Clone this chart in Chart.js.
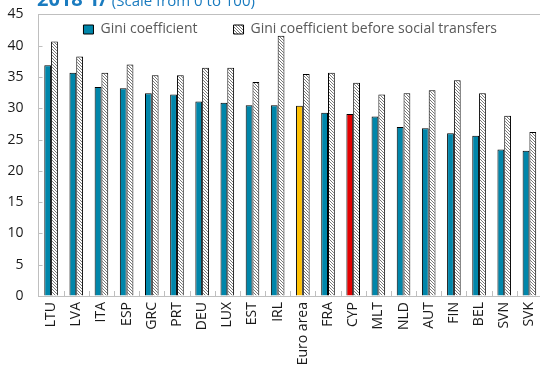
<!DOCTYPE html>
<html>
<head>
<meta charset="utf-8">
<script src="https://cdn.jsdelivr.net/npm/chart.js@4/dist/chart.umd.min.js"></script>
<style>
  html, body { margin: 0; padding: 0; background: #fff; overflow: hidden; width: 540px; height: 372px; }
  #wrap { position: absolute; left: 0; top: 0; width: 542px; height: 372px; }
  #title { position: absolute; left: 37px; top: -11px; line-height: 20px; white-space: nowrap;
           font-family: "Open Sans", sans-serif; color: #1a7bbf; z-index: 2; }
  #title b { font-size: 20px; font-weight: 700; }
  #title span { font-size: 15px; }
</style>
</head>
<body>
<div id="title"><b>2018 1/</b> <span>(Scale from 0 to 100)</span></div>
<div id="wrap"><canvas id="c" width="542" height="372"></canvas></div>
<script>
// ---- data ----
const categories = ['LTU','LVA','ITA','ESP','GRC','PRT','DEU','LUX','EST','IRL','Euro area','FRA','CYP','MLT','NLD','AUT','FIN','BEL','SVN','SVK'];
const gini = [36.9,35.7,33.4,33.2,32.4,32.2,31.1,30.9,30.5,30.5,30.4,29.3,29.1,28.7,27.0,26.8,26.0,25.6,23.4,23.2];
const giniBefore = [40.7,38.3,35.7,37.0,35.3,35.3,36.5,36.5,34.2,41.6,35.5,35.7,34.1,32.2,32.4,32.9,34.5,32.4,28.8,26.2];
const yTicks = [0,5,10,15,20,25,30,35,40,45];
const seriesNames = ['Gini coefficient', 'Gini coefficient before social transfers'];

// ---- styles ----
const BLUE = '#0086aa';
const highlight = { 'Euro area': '#ffc000', 'CYP': '#e60000' };
const AXIS = '#bfbfbf';
const FONT = '"Open Sans", sans-serif';

function hatch() {
  const n = 3;
  const p = document.createElement('canvas');
  p.width = n; p.height = n;
  const g = p.getContext('2d');
  g.fillStyle = '#ffffff'; g.fillRect(0, 0, n, n);
  g.fillStyle = '#7a7a7a';
  for (let i = 0; i < n; i++) g.fillRect(i, i, 1, 1);
  return g.createPattern(p, 'repeat');
}
const HATCH = hatch();

const innerTicks = {
  id: 'innerTicks',
  afterDatasetsDraw(chart) {
    const {ctx, scales: {x, y}, chartArea: a} = chart;
    ctx.save();
    ctx.strokeStyle = AXIS; ctx.lineWidth = 1;
    ctx.beginPath();
    for (let i = 1; i < categories.length; i++) {
      const px = Math.round((x.getPixelForValue(i - 1) + x.getPixelForValue(i)) / 2) + 0.5;
      ctx.moveTo(px, a.bottom); ctx.lineTo(px, a.bottom - 5);
    }
    yTicks.forEach(v => {
      if (v === 0 || v === 45) return;
      const py = Math.round(y.getPixelForValue(v)) + 0.5;
      ctx.moveTo(a.left, py); ctx.lineTo(a.left + 4, py);
    });
    ctx.stroke();
    ctx.restore();
  }
};

// legend reserves ~no space (maxHeight 1); move its box down into the plot area
const legendShift = {
  id: 'legendShift',
  afterLayout(chart) {
    const lg = chart.legend;
    if (!lg) return;
    const pad = lg.options.labels.padding;
    lg.top = 22.5 - pad;
    lg.bottom = lg.top + 2 * pad + 24;
    lg.height = lg.bottom - lg.top;
  }
};

new Chart(document.getElementById('c'), {
  type: 'bar',
  data: {
    labels: categories,
    datasets: [
      {
        label: seriesNames[0],
        data: gini,
        backgroundColor: categories.map(c => highlight[c] || BLUE),
        borderColor: '#000', borderWidth: 1,
        barPercentage: 1.0, categoryPercentage: 0.54
      },
      {
        label: seriesNames[1],
        data: giniBefore,
        backgroundColor: HATCH,
        borderColor: '#000', borderWidth: 1,
        barPercentage: 1.0, categoryPercentage: 0.54
      }
    ]
  },
  options: {
    responsive: false,
    animation: false,
    devicePixelRatio: 1,
    layout: { padding: { top: 13.5, right: 0, left: 0, bottom: 0 } },
    plugins: {
      title: { display: false },
      tooltip: { enabled: false },
      legend: {
        position: 'top',
        fullSize: false,
        align: 'center',
        maxHeight: 1,
        labels: {
          boxWidth: 10, boxHeight: 9, padding: 36,
          color: '#595959',
          font: { family: FONT, size: 14 },
          generateLabels(chart) {
            return chart.data.datasets.map((ds, i) => ({
              text: ds.label,
              fillStyle: i === 0 ? BLUE : HATCH,
              strokeStyle: '#000', lineWidth: 1,
              fontColor: '#595959',
              datasetIndex: i, hidden: false
            }));
          }
        }
      }
    },
    scales: {
      x: {
        afterFit(s) { s.height = 76; s.paddingLeft = 0; s.paddingRight = 0; },
        grid: { display: false, drawTicks: false },
        border: { display: true, color: AXIS, width: 1 },
        ticks: {
          minRotation: 90, maxRotation: 90, autoSkip: false, padding: 6,
          color: '#1a1a1a', font: { family: FONT, size: 14 }
        }
      },
      y: {
        min: 0, max: 45,
        afterFit(s) { s.width = 38.5; s.paddingTop = 0; s.paddingBottom = 0; },
        afterBuildTicks(s) { s.ticks = yTicks.map(v => ({ value: v })); },
        grid: {
          drawTicks: false,
          color: c => (c.tick && c.tick.value === 45) ? AXIS : 'rgba(0,0,0,0)',
          lineWidth: 1
        },
        border: { display: true, color: AXIS, width: 1 },
        ticks: { padding: 15, color: '#1a1a1a', font: { family: FONT, size: 14 } }
      }
    }
  },
  plugins: [innerTicks, legendShift]
});
</script>
</body>
</html>
